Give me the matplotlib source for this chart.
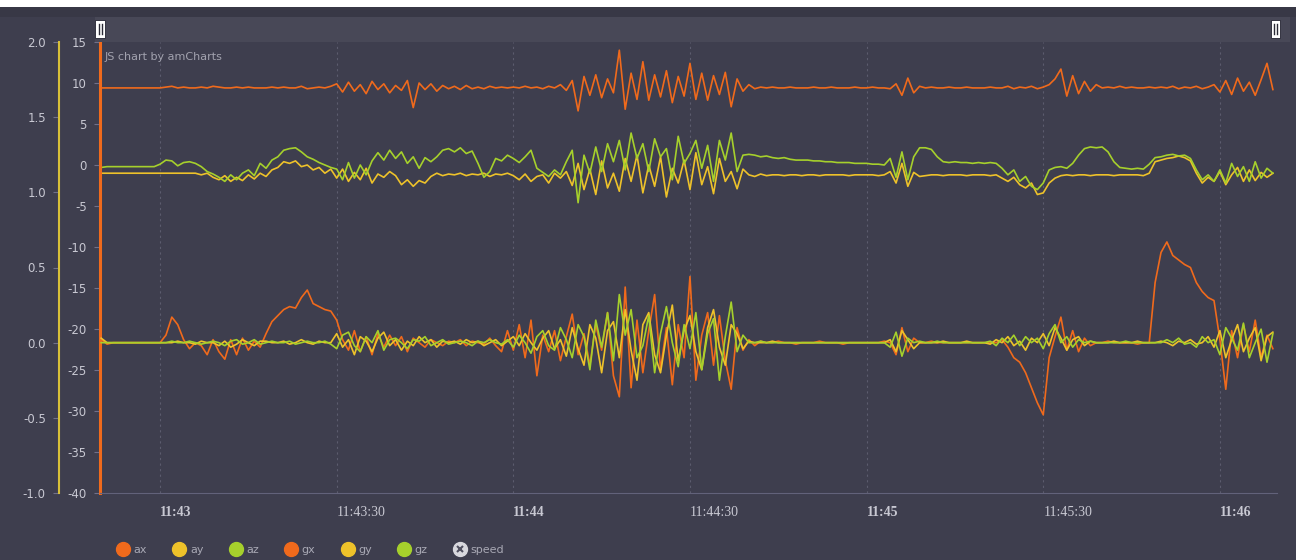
import numpy as np
import pandas as pd
import matplotlib
matplotlib.use("Agg")
import matplotlib.pyplot as plt
import matplotlib.transforms as mtransforms
from matplotlib.lines import Line2D
from matplotlib.legend_handler import HandlerTuple
from matplotlib.patches import Rectangle, FancyBboxPatch

plt.rcParams['axes.unicode_minus'] = False

# one sample per second, starting 11:42:50
times = pd.date_range('2019-05-20 11:42:50', periods=200, freq='1s')

# accelerometer (inner axis, -40..15)
ax_vals = [9.4, 9.4, 9.4, 9.4, 9.4, 9.4, 9.4, 9.4, 9.4, 9.4,
           9.4, 9.5, 9.6, 9.4, 9.5, 9.4, 9.4, 9.5, 9.4, 9.6,
           9.5, 9.4, 9.4, 9.5, 9.4, 9.5, 9.4, 9.4, 9.4, 9.5,
           9.4, 9.5, 9.4, 9.4, 9.6, 9.3, 9.4, 9.5, 9.4, 9.6,
           9.9, 8.9, 10.1, 9.0, 9.8, 8.7, 10.2, 9.2, 9.9, 8.8,
           9.7, 9.1, 10.3, 7.0, 10.0, 9.2, 9.9, 9.0, 9.7, 9.3,
           9.6, 9.2, 9.7, 9.3, 9.5, 9.3, 9.6, 9.4, 9.5, 9.4,
           9.5, 9.4, 9.6, 9.4, 9.5, 9.3, 9.6, 9.4, 9.8, 9.1,
           10.3, 6.6, 10.8, 8.5, 11.0, 8.2, 10.5, 8.8, 14.0, 6.8,
           11.2, 8.0, 12.6, 7.9, 11.0, 8.3, 11.5, 7.6, 10.8, 8.4,
           12.4, 8.0, 11.2, 7.9, 10.9, 8.6, 11.3, 7.1, 10.5, 9.0,
           9.8, 9.3, 9.5, 9.4, 9.5, 9.4, 9.4, 9.5, 9.4, 9.4,
           9.4, 9.5, 9.4, 9.4, 9.5, 9.4, 9.4, 9.4, 9.5, 9.4,
           9.4, 9.5, 9.4, 9.4, 9.3, 9.9, 8.5, 10.6, 8.8, 9.6,
           9.4, 9.5, 9.4, 9.4, 9.5, 9.4, 9.4, 9.5, 9.4, 9.4,
           9.4, 9.5, 9.4, 9.4, 9.6, 9.3, 9.5, 9.4, 9.6, 9.3,
           9.5, 9.8, 10.5, 11.7, 8.4, 10.9, 8.7, 10.2, 9.0, 9.8,
           9.4, 9.5, 9.4, 9.6, 9.4, 9.5, 9.4, 9.4, 9.5, 9.4,
           9.5, 9.4, 9.6, 9.3, 9.5, 9.4, 9.6, 9.3, 9.5, 9.8,
           8.9, 10.3, 8.6, 10.6, 9.0, 10.1, 8.5, 10.4, 12.4, 9.2]

ay_vals = [-1.0, -1.0, -1.0, -1.0, -1.0, -1.0, -1.0, -1.0, -1.0, -1.0,
           -1.0, -1.0, -1.0, -1.0, -1.0, -1.0, -1.0, -1.2, -1.0, -1.5,
           -1.8, -1.3, -2.0, -1.5, -1.9, -1.2, -1.7, -1.0, -1.4, -0.6,
           -0.3, 0.4, 0.2, 0.5, -0.2, 0.0, -0.6, -0.3, -1.0, -0.5,
           -1.6, -0.5, -2.0, -0.9, -1.8, -0.4, -2.2, -1.1, -1.5, -0.8,
           -1.3, -2.4, -1.8, -2.6, -1.9, -2.2, -1.4, -1.0, -1.3, -1.1,
           -1.2, -1.0, -1.3, -1.1, -1.2, -1.0, -1.4, -1.1, -1.2, -1.0,
           -1.3, -1.8, -1.1, -2.0, -1.4, -1.2, -2.2, -1.0, -1.6, -0.8,
           -2.5, 0.2, -3.0, -0.5, -3.6, 0.5, -2.8, -1.0, -3.2, 0.8,
           -2.0, 1.2, -3.4, 0.0, -2.6, 1.0, -3.9, -0.4, -2.2, 0.6,
           -3.0, 1.5, -2.4, -0.2, -3.5, 0.8, -2.0, -0.8, -2.9, -0.5,
           -1.2, -1.4, -1.1, -1.3, -1.2, -1.2, -1.3, -1.2, -1.2, -1.3,
           -1.2, -1.2, -1.3, -1.2, -1.2, -1.2, -1.2, -1.3, -1.2, -1.2,
           -1.2, -1.2, -1.3, -1.2, -0.8, -2.2, 0.2, -2.6, -0.9, -1.4,
           -1.3, -1.2, -1.2, -1.3, -1.2, -1.2, -1.2, -1.3, -1.2, -1.2,
           -1.2, -1.3, -1.2, -1.6, -2.0, -1.5, -2.4, -2.8, -2.2, -3.6,
           -3.4, -2.2, -1.6, -1.3, -1.2, -1.3, -1.2, -1.2, -1.3, -1.2,
           -1.2, -1.2, -1.3, -1.2, -1.2, -1.2, -1.2, -1.3, -1.0, 0.4,
           0.6, 0.8, 0.9, 1.1, 0.9, 0.5, -1.0, -2.2, -1.5, -2.0,
           -0.8, -2.4, -1.2, -0.3, -2.0, -0.6, -1.9, -0.9, -1.5, -1.0]

az_vals = [-0.3, -0.2, -0.2, -0.2, -0.2, -0.2, -0.2, -0.2, -0.2, -0.2,
           0.1, 0.6, 0.5, -0.1, 0.3, 0.4, 0.2, -0.2, -0.8, -1.1,
           -1.5, -2.0, -1.2, -1.8, -1.0, -0.6, -1.3, 0.2, -0.4, 0.6,
           1.0, 1.8, 2.0, 2.1, 1.6, 1.0, 0.7, 0.3, 0.0, -0.3,
           -0.5, -1.8, 0.3, -1.6, 0.0, -1.2, 0.5, 1.5, 0.6, 1.8,
           0.8, 1.6, 0.2, 1.0, -0.4, 0.9, 0.4, 1.0, 1.8, 2.0,
           1.6, 2.1, 1.4, 1.7, 0.2, -1.5, -0.8, 0.8, 0.5, 1.2,
           0.8, 0.3, 1.0, 1.8, -0.4, -0.9, -1.4, -0.6, -1.2, 0.4,
           1.8, -4.6, 1.2, -1.0, 2.2, -0.8, 2.6, 0.4, 3.0, -0.6,
           3.9, 0.8, 2.6, -0.8, 3.2, 1.0, 2.0, -1.8, 3.5, 0.2,
           1.4, 3.0, -0.4, 2.4, -2.0, 3.0, 0.6, 3.9, -0.8, 1.2,
           1.3, 1.2, 1.0, 1.1, 0.9, 0.8, 0.9, 0.7, 0.6, 0.6,
           0.6, 0.5, 0.5, 0.4, 0.4, 0.3, 0.3, 0.3, 0.2, 0.2,
           0.2, 0.1, 0.1, 0.0, 0.8, -1.5, 1.6, -1.8, 1.0, 2.1,
           2.1, 1.9, 1.0, 0.4, 0.3, 0.4, 0.3, 0.3, 0.2, 0.3,
           0.2, 0.3, 0.2, -0.4, -1.2, -0.6, -2.0, -1.4, -2.6, -3.0,
           -2.2, -0.6, -0.3, -0.2, -0.4, 0.2, 1.2, 2.0, 2.2, 2.1,
           2.2, 1.6, 0.4, -0.3, -0.4, -0.5, -0.4, -0.5, 0.1, 0.9,
           1.0, 1.2, 1.3, 1.1, 1.2, 0.8, -0.6, -1.8, -1.2, -2.0,
           -0.6, -2.2, 0.2, -1.4, -0.2, -2.0, 0.4, -1.6, -0.4, -1.0]

# gyroscope (outer axis, -1..2)
gx_vals = [0.02, -0.01, 0.0, 0.0, 0.0, 0.0, 0.0, 0.0, 0.0, 0.0,
           0.0, 0.05, 0.17, 0.12, 0.02, -0.04, 0.0, -0.02, -0.08, 0.02,
           -0.06, -0.11, 0.02, -0.08, 0.03, -0.05, 0.01, -0.03, 0.06, 0.14,
           0.18, 0.22, 0.24, 0.23, 0.3, 0.35, 0.26, 0.24, 0.22, 0.21,
           0.15, 0.02, -0.05, 0.08, -0.06, 0.04, -0.08, 0.06, -0.03, 0.05,
           -0.02, 0.04, -0.06, 0.03, 0.0, -0.03, 0.02, 0.0, -0.02, 0.01,
           0.0, 0.02, -0.02, 0.01, 0.0, -0.01, 0.03, -0.02, -0.06, 0.08,
           -0.05, 0.12, -0.1, 0.15, -0.22, 0.05, -0.06, 0.08, -0.12, 0.04,
           0.19, -0.08, 0.06, -0.15, 0.12, -0.05, 0.2, -0.22, -0.36, 0.37,
           -0.3, 0.15, -0.2, 0.08, 0.32, -0.18, 0.1, -0.28, 0.12, -0.1,
           0.44, -0.25, 0.05, 0.2, -0.15, 0.18, -0.12, -0.31, 0.1, -0.05,
           0.02, -0.02, 0.01, 0.0, 0.0, 0.01, 0.0, 0.0, -0.01, 0.0,
           0.0, 0.0, 0.01, 0.0, 0.0, 0.0, -0.01, 0.0, 0.0, 0.0,
           0.0, 0.0, 0.0, 0.01, 0.0, -0.08, 0.1, -0.06, 0.03, 0.0,
           0.0, 0.01, 0.0, 0.0, 0.0, 0.0, 0.0, 0.0, 0.0, 0.0,
           0.0, 0.0, 0.0, 0.02, -0.03, -0.1, -0.13, -0.2, -0.3, -0.4,
           -0.48, -0.1, 0.04, 0.17, -0.05, 0.08, -0.06, 0.03, -0.02, 0.0,
           0.0, 0.01, 0.0, 0.0, 0.0, 0.0, -0.01, 0.0, 0.0, 0.4,
           0.6, 0.67, 0.58, 0.55, 0.52, 0.5, 0.4, 0.34, 0.3, 0.28,
           0.02, -0.31, 0.08, -0.1, 0.12, -0.06, 0.15, -0.1, 0.05, -0.04]

gy_vals = [0.03, 0.0, 0.0, 0.0, 0.0, 0.0, 0.0, 0.0, 0.0, 0.0,
           0.0, 0.0, 0.0, 0.01, 0.0, 0.0, -0.01, 0.01, 0.0, 0.0,
           -0.02, 0.01, -0.03, -0.01, 0.02, 0.0, -0.02, 0.01, 0.01, 0.0,
           0.0, 0.01, -0.01, 0.0, 0.02, 0.0, -0.01, 0.01, 0.0, 0.0,
           0.06, -0.03, 0.02, -0.08, 0.04, 0.01, -0.06, 0.03, 0.07, -0.02,
           0.02, -0.05, 0.01, -0.02, 0.04, 0.0, 0.02, -0.03, 0.01, 0.0,
           0.01, -0.01, 0.02, 0.0, 0.01, -0.02, 0.0, 0.02, -0.02, 0.01,
           0.04, -0.02, 0.06, 0.0, -0.05, 0.03, 0.08, -0.04, 0.02, -0.09,
           0.1, -0.04, -0.15, 0.12, 0.03, -0.2, 0.08, 0.14, -0.1, 0.22,
           -0.05, -0.25, 0.12, 0.2, -0.08, -0.2, 0.05, 0.25, -0.12, 0.08,
           0.18, -0.06, -0.18, 0.1, 0.22, -0.03, -0.15, 0.12, 0.06, -0.04,
           0.01, 0.0, 0.0, 0.0, 0.01, 0.0, 0.0, 0.0, 0.0, 0.0,
           0.0, 0.0, 0.0, 0.0, 0.0, 0.0, 0.0, 0.0, 0.0, 0.0,
           0.0, 0.0, 0.0, 0.0, 0.02, -0.06, 0.08, 0.02, -0.04, 0.0,
           0.0, 0.0, 0.0, 0.01, 0.0, 0.0, 0.0, 0.01, 0.0, 0.0,
           0.0, -0.01, 0.02, 0.0, 0.04, -0.02, 0.01, -0.05, 0.03, 0.0,
           0.06, -0.02, 0.1, 0.03, -0.05, 0.02, 0.04, -0.02, 0.01, 0.0,
           0.0, 0.0, 0.01, 0.0, 0.0, 0.0, 0.01, 0.0, 0.0, 0.0,
           0.01, 0.0, -0.02, 0.01, 0.0, 0.02, -0.01, 0.0, 0.04, -0.03,
           0.08, -0.1, 0.02, 0.12, -0.06, 0.03, 0.1, -0.12, 0.04, 0.07]

gz_vals = [0.0, 0.0, 0.0, 0.0, 0.0, 0.0, 0.0, 0.0, 0.0, 0.0,
           0.0, 0.0, 0.01, 0.0, 0.0, 0.01, 0.0, -0.01, 0.0, 0.01,
           0.0, -0.02, 0.01, 0.02, -0.01, 0.0, 0.02, -0.01, 0.0, 0.01,
           0.0, 0.0, 0.01, -0.01, 0.0, 0.01, 0.0, 0.0, 0.01, -0.01,
           -0.04, 0.05, 0.07, -0.02, -0.06, 0.04, 0.0, 0.08, -0.05, 0.02,
           0.03, 0.0, -0.04, 0.02, 0.01, 0.04, -0.02, 0.0, 0.02, -0.01,
           0.0, 0.01, 0.0, -0.02, 0.01, 0.0, 0.02, 0.0, -0.01, 0.02,
           -0.03, 0.05, 0.0, -0.07, 0.04, 0.08, -0.02, -0.05, 0.1, 0.02,
           -0.1, 0.12, 0.04, -0.18, 0.15, -0.03, 0.2, -0.12, 0.32, 0.05,
           0.22, -0.1, -0.02, 0.18, -0.2, 0.06, 0.24, 0.0, -0.16, 0.12,
           -0.04, 0.2, -0.18, 0.06, 0.16, -0.25, 0.04, 0.27, -0.06, 0.05,
           0.0, 0.0, 0.01, 0.0, 0.0, 0.0, 0.0, 0.0, 0.0, 0.0,
           0.0, 0.0, 0.0, 0.0, 0.0, 0.0, 0.0, 0.0, 0.0, 0.0,
           0.0, 0.0, 0.0, 0.0, -0.03, 0.07, -0.09, 0.03, 0.0, 0.01,
           0.0, 0.0, 0.01, 0.0, 0.0, 0.0, 0.0, 0.0, 0.0, 0.0,
           0.0, 0.01, -0.02, 0.03, 0.0, 0.05, -0.02, 0.04, 0.0, 0.03,
           -0.04, 0.06, 0.12, 0.0, 0.04, -0.03, 0.02, 0.0, 0.01, 0.0,
           0.0, 0.0, 0.0, 0.0, 0.01, 0.0, 0.0, 0.0, 0.0, 0.0,
           0.0, 0.02, 0.0, 0.03, -0.01, 0.0, -0.03, 0.04, 0.0, 0.02,
           -0.08, 0.1, 0.03, -0.05, 0.13, -0.1, 0.0, 0.09, -0.13, 0.06]

legend_names = ['ax', 'ay', 'az', 'gx', 'gy', 'gz', 'speed']

ORANGE = '#f06a1c'
YELLOW = '#eec22a'
GREEN = '#a6d02c'
BG = '#3e3e4e'
TXT = '#c8c8d2'

W, H = 1296, 560
fig = plt.figure(figsize=(W / 100, H / 100), dpi=100, facecolor=BG)

# white strip on top + scrollbar band
fig.patches.append(Rectangle((0, 1 - 7 / H), 1, 7 / H, transform=fig.transFigure,
                             facecolor='white', edgecolor='none', zorder=0))
fig.patches.append(Rectangle((0, 1 - 17 / H), 1, 10 / H, transform=fig.transFigure,
                             facecolor='#383846', edgecolor='none', zorder=0))
fig.patches.append(Rectangle((95 / W, 1 - 42 / H), 1195 / W, 25 / H, transform=fig.transFigure,
                             facecolor='#484857', edgecolor='none', zorder=0))

x0, x1, y0, y1 = 100, 1277, 42, 493
ax = fig.add_axes([x0 / W, 1 - y1 / H, (x1 - x0) / W, (y1 - y0) / H])
ax.set_facecolor(BG)
ax2 = ax.twinx()

lw = 1.2
ax.plot(times, ax_vals, color=ORANGE, lw=lw)
ax.plot(times, ay_vals, color=YELLOW, lw=lw)
ax.plot(times, az_vals, color=GREEN, lw=lw)
ax2.plot(times, gx_vals, color=ORANGE, lw=lw)
ax2.plot(times, gy_vals, color=YELLOW, lw=lw)
ax2.plot(times, gz_vals, color=GREEN, lw=lw)

ax.set_ylim(-40, 15)
ax.set_yticks(np.arange(-40, 16, 5))
ax2.set_ylim(-1.0, 2.0)
ax2.set_yticks(np.arange(-1.0, 2.01, 0.5))
ax2.yaxis.set_major_formatter(matplotlib.ticker.FormatStrFormatter('%.1f'))

start = pd.Timestamp('2019-05-20 11:42:49.8')
end = pd.Timestamp('2019-05-20 11:46:09.7')
ax.set_xlim(start, end)
xt = pd.date_range('2019-05-20 11:43:00', '2019-05-20 11:46:00', freq='30s')
ax.set_xticks(xt)
ax.set_xticklabels([t.strftime('%H:%M') if t.second == 0 else t.strftime('%H:%M:%S') for t in xt])
for t, lab in zip(xt, ax.get_xticklabels()):
    lab.set_horizontalalignment('left')
    lab.set_fontfamily('Liberation Serif')
    lab.set_fontsize(10)
    lab.set_color(TXT)
    if t.second == 0:
        lab.set_fontweight('bold')
    lab.set_transform(lab.get_transform() + mtransforms.ScaledTranslation(4 / 100, 0, fig.dpi_scale_trans))
ax.tick_params(axis='x', length=0, pad=9)
ax.grid(axis='x', color='#5c5c6e', lw=0.8, ls=(0, (2, 3)))

for a in (ax, ax2):
    a.spines['top'].set_visible(False)
    a.spines['right'].set_visible(False)
ax2.spines['bottom'].set_visible(False)
ax.spines['bottom'].set_color('#62627a')
ax.spines['left'].set_color(ORANGE)
ax.spines['left'].set_linewidth(2.2)
ax.tick_params(axis='y', length=4.5, width=0.8, color='#70708a', labelcolor=TXT,
               labelsize=8.5, pad=5)

ax2.yaxis.tick_left()
ax2.spines['left'].set_visible(True)
ax2.spines['left'].set_position(('outward', 41 * 0.72))
ax2.spines['left'].set_color('#d8c038')
ax2.spines['left'].set_linewidth(1.5)
ax2.tick_params(axis='y', which='both', left=True, right=False, labelleft=True, labelright=False,
                length=4.5, width=0.8, color='#70708a', labelcolor=TXT, labelsize=8.5, pad=5)

# watermark text
fig.text(105 / W, 1 - 57 / H, 'JS chart by amCharts', color='#a2a2ae', fontsize=8, va='center')

# scrollbar grips
for gx_px in (100, 1275):
    fig.patches.append(FancyBboxPatch(((gx_px - 4.5) / W, 1 - 38 / H), 9 / W, 18 / H,
                                      boxstyle='square,pad=0',
                                      transform=fig.transFigure, facecolor='white',
                                      edgecolor='#222230', lw=0.6, zorder=3))
    for dx in (-1.5, 1.5):
        fig.lines.append(Line2D([(gx_px + dx) / W] * 2, [1 - 34 / H, 1 - 24 / H],
                                transform=fig.transFigure, color='#2a2a36', lw=1.0, zorder=4))

# legend
handles = [Line2D([], [], ls='', marker='o', ms=10, color=c, mec=c)
           for c in (ORANGE, YELLOW, GREEN, ORANGE, YELLOW, GREEN)]
speed_h = (Line2D([], [], ls='', marker='o', ms=10, color='#d8d8de', mec='#d8d8de'),
           Line2D([], [], ls='', marker='x', ms=5, color='#505060', mew=1.5))
handles.append(speed_h)
leg = fig.legend(handles, legend_names, loc='center left', bbox_to_anchor=(112 / W, 1 - 550 / H),
                 ncol=7, frameon=False, fontsize=8, labelcolor='#a8a8b4',
                 handlelength=1.0, handletextpad=0.45, columnspacing=2.4, borderpad=0,
                 handler_map={tuple: HandlerTuple(ndivide=1)})

fig.savefig('out.png', dpi=100, facecolor=BG)
